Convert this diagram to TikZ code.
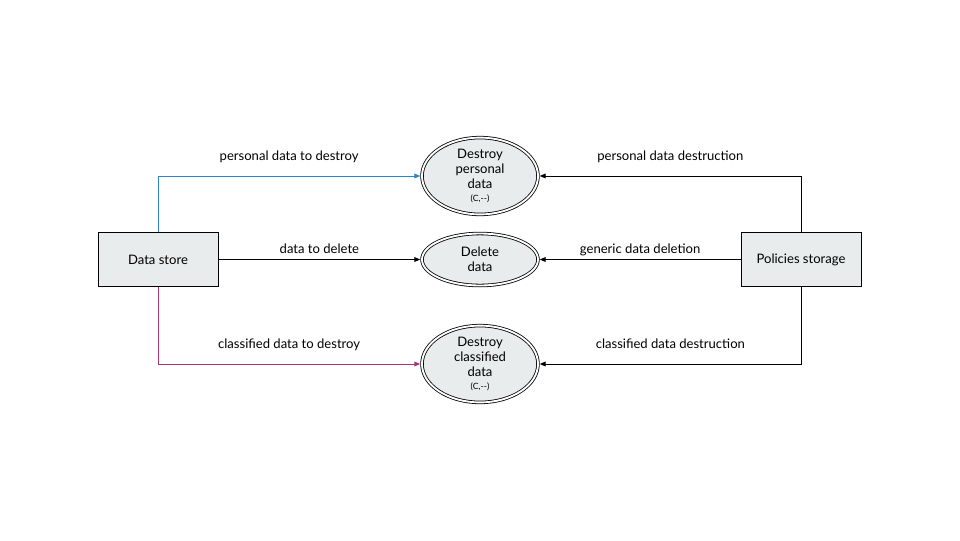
\documentclass[tikz,border=0pt]{standalone}
\usepackage{fontspec}
\setmainfont{Lato}
\usepackage{tikz}
\usetikzlibrary{arrows.meta,shapes.geometric}
\definecolor{boxfill}{RGB}{233,236,236}
\definecolor{persline}{RGB}{45,130,205}
\definecolor{classline}{RGB}{170,55,115}

\begin{document}
\begin{tikzpicture}[x=0.75pt,y=-0.75pt,>={Triangle[length=4.5pt,width=3.6pt]},
  font=\fontsize{9.8}{11.25}\selectfont,
  store/.style={draw,fill=boxfill,line width=0.75pt,minimum width=90pt,minimum height=40pt,inner sep=0pt},
  proc/.style={ellipse,draw,double,double distance=1.4pt,line width=0.6pt,fill=boxfill,
    minimum width=87pt,inner sep=0pt,align=center,outer sep=1.3pt},
  flow/.style={->,line width=0.75pt},
  lbl/.style={anchor=base,yshift=11.8pt,inner sep=0pt},
  midlbl/.style={anchor=base,yshift=4.6pt,inner sep=0pt}]
\useasboundingbox (0,0) rectangle (960,540);
\node[store] (DS) at (158,259.5) {Data store};
\node[store] (PS) at (801,259.5) {Policies storage};
\node[proc,minimum height=57pt] (DP) at (480,176) {Destroy\\ personal\\ data\\[-1pt] {\fontsize{6.5}{7.5}\selectfont (C,-{}-)}};
\node[proc,minimum height=39pt] (DD) at (480,259.5) {Delete\\ data};
\node[proc,minimum height=54pt] (DC) at (480,364) {Destroy\\ classified\\ data\\[-1pt] {\fontsize{6.5}{7.5}\selectfont (C,-{}-)}};
% data store side
\draw[flow,persline] (DS.north) |- (DP.west) node[lbl,pos=0.75,black] {personal data to destroy};
\draw[flow] (DS.east) -- (DD.west) node[midlbl,midway] {data to delete};
\draw[flow,classline] (DS.south) |- (DC.west) node[lbl,pos=0.75,black] {classified data to destroy};
% policies side
\draw[flow] (PS.north) |- (DP.east) node[lbl,pos=0.75] {personal data destruction};
\draw[flow] (PS.west) -- (DD.east) node[midlbl,midway] {generic data deletion};
\draw[flow] (PS.south) |- (DC.east) node[lbl,pos=0.75] {classified data destruction};
\end{tikzpicture}
\end{document}
